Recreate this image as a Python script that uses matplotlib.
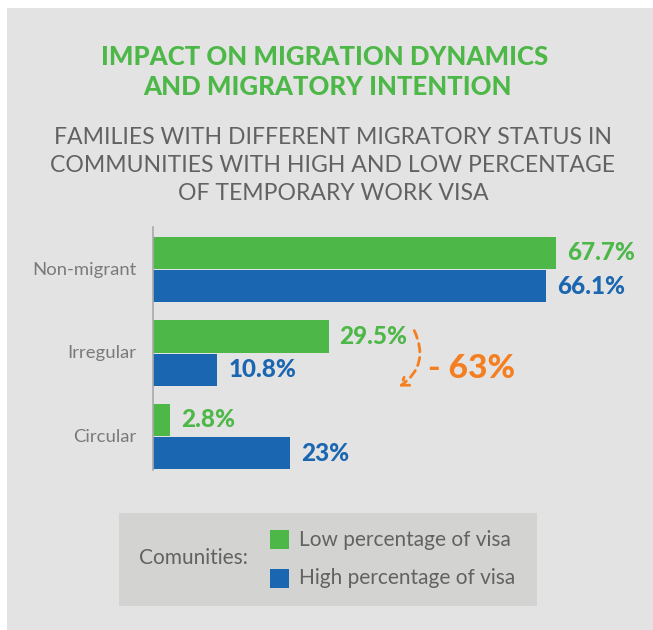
import matplotlib
matplotlib.use("Agg")
import matplotlib.pyplot as plt
from matplotlib.patches import Rectangle, FancyArrowPatch

plt.rcParams['font.family'] = ['Lato', 'DejaVu Sans']

# data
categories = ["Non-migrant", "Irregular", "Circular"]
series_names = ["Low percentage of visa", "High percentage of visa"]
low_visa = [67.7, 29.5, 2.8]
high_visa = [66.1, 10.8, 23]
change_label = "- 63%"

GREEN = "#4DB848"
BLUE = "#1A66B0"
ORANGE = "#F47F20"
GREY_TXT = "#626262"
PANEL = "#E3E3E3"
W, H = 653, 630


def fx(x):
    return x / W


def fy(y):
    return 1 - y / H


fig = plt.figure(figsize=(W / 100, H / 100), dpi=100)
fig.patch.set_facecolor("white")
fig.patches.append(Rectangle((fx(7), 0), 1 - fx(7), fy(8), transform=fig.transFigure,
                             facecolor=PANEL, edgecolor="none", zorder=-10))

# titles
fig.text(fx(325), fy(57), "IMPACT ON MIGRATION DYNAMICS", ha="center", va="center",
         color=GREEN, fontsize=18.5, fontweight="black")
fig.text(fx(327), fy(87), "AND MIGRATORY INTENTION", ha="center", va="center",
         color=GREEN, fontsize=18.5, fontweight="black")
sub = ["FAMILIES WITH DIFFERENT MIGRATORY STATUS IN",
       "COMMUNITIES WITH HIGH AND LOW PERCENTAGE",
       "OF TEMPORARY WORK VISA"]
for i, line in enumerate(sub):
    fig.text(fx(333), fy(137 + 28.5 * i), line, ha="center", va="center",
             color=GREY_TXT, fontsize=16.6)

# bar chart
ax_left, ax_right, ax_top, ax_bot = 153, 600, 227, 470
ax = fig.add_axes([fx(ax_left), fy(ax_bot), fx(ax_right - ax_left), (ax_bot - ax_top) / H])
ax.set_facecolor("none")
pxu = 5.95
ax.set_xlim(0, (ax_right - ax_left) / pxu)
ax.set_ylim(2.40, -0.51)

ypos = list(range(len(categories)))
h = 0.385
off = 0.199
ax.barh([y - off for y in ypos], low_visa, height=h, color=GREEN)
ax.barh([y + off for y in ypos], high_visa, height=h, color=BLUE)

pad = 11 / pxu
for y, v in zip(ypos, low_visa):
    ax.text(v + pad, y - off, f"{v:g}%", va="center", ha="left", color=GREEN,
            fontsize=17.5, fontweight="black")
for y, v in zip(ypos, high_visa):
    ax.text(v + pad, y + off, f"{v:g}%", va="center", ha="left", color=BLUE,
            fontsize=17.5, fontweight="black")

ax.set_yticks(ypos)
ax.set_yticklabels(categories, color="#7A7A7A", fontsize=13.3)
for lbl, dy in zip(ax.get_yticklabels(), [0, 0, 0]):
    lbl.set_va("center")
ax.tick_params(axis="y", length=0, pad=12)
ax.set_xticks([])
for s in ["top", "right", "bottom"]:
    ax.spines[s].set_visible(False)
ax.spines["left"].set_color("#AAAAAA")
ax.spines["left"].set_linewidth(1.2)

# change annotation
arr = FancyArrowPatch((43.7, 0.70), (41.0, 1.42), connectionstyle="arc3,rad=-0.45",
                      arrowstyle="->,head_length=5,head_width=3.5", color=ORANGE,
                      linestyle=(0, (3, 2)), linewidth=2, mutation_scale=1)
ax.add_patch(arr)
ax.text(46.2, 1.19, change_label, va="center", ha="left", color=ORANGE,
        fontsize=24, fontweight="black")

# legend
fig.patches.append(Rectangle((fx(119), fy(606)), fx(537 - 119), (606 - 513) / H,
                             transform=fig.transFigure, facecolor="#D3D4D2",
                             edgecolor="none", zorder=-5))
fig.text(fx(139), fy(558), "Comunities:", ha="left", va="center", color=GREY_TXT,
         fontsize=15, zorder=2)
for i, (name, col) in enumerate(zip(series_names, [GREEN, BLUE])):
    ytop = 530 + 39 * i
    fig.patches.append(Rectangle((fx(270), fy(ytop + 19)), fx(19), 19 / H,
                                 transform=fig.transFigure, facecolor=col,
                                 edgecolor="none", zorder=2))
    fig.text(fx(299), fy(ytop + 9.5), name, ha="left", va="center", color=GREY_TXT,
             fontsize=15, zorder=2)

fig.savefig("out.png", dpi=100)
